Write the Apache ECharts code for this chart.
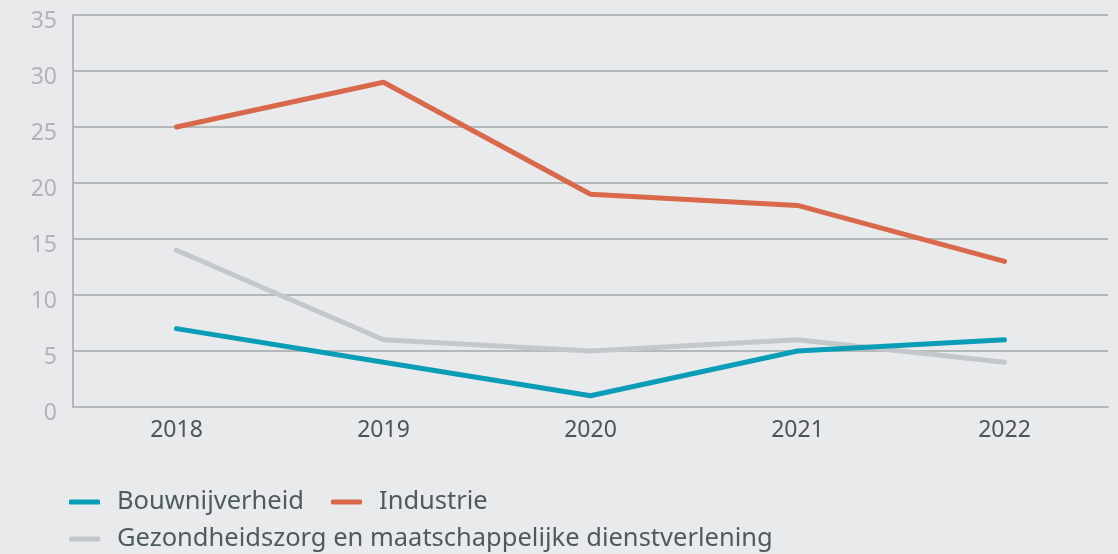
<!DOCTYPE html>
<html>
<head>
<meta charset="utf-8">
<script src="https://cdn.jsdelivr.net/npm/echarts@6/dist/echarts.min.js"></script>
<style>
  html, body { margin: 0; padding: 0; background: #e9eaec; }
  #chart { width: 1118px; height: 554px; }
</style>
</head>
<body>
<div id="chart"></div>
<script>
var years = ['2018', '2019', '2020', '2021', '2022'];
var bouw = [7, 4, 1, 5, 6];
var industrie = [25, 29, 19, 18, 13];
var zorg = [14, 6, 5, 6, 4];

var seriesNames = ['Bouwnijverheid', 'Industrie', 'Gezondheidszorg en maatschappelijke dienstverlening'];
var colors = ['#0a9db7', '#d9694a', '#c3c8cc'];

var myChart = echarts.init(document.getElementById('chart'));

var legendText = { fontFamily: 'Noto Sans', fontSize: 25.5, color: '#4e5a62', padding: [0, 0, 0, 12] };

var option = {
    backgroundColor: '#e9eaec',
    color: colors,
    grid: { left: 73, right: 10, top: 15, bottom: 147 },
    legend: [
        {
            data: [seriesNames[0], seriesNames[1]],
            left: 69, top: 489, padding: 0,
            icon: 'roundRect', itemWidth: 31, itemHeight: 5, itemGap: 27,
            textStyle: legendText
        },
        {
            data: [seriesNames[2]],
            left: 69, top: 526, padding: 0,
            icon: 'roundRect', itemWidth: 31, itemHeight: 5,
            textStyle: legendText
        }
    ],
    xAxis: {
        type: 'category',
        data: years,
        boundaryGap: true,
        axisLine: { lineStyle: { color: '#b3b8bb', width: 2 } },
        axisTick: { show: false },
        axisLabel: { fontFamily: 'Noto Sans', fontSize: 23, color: '#4a555c', margin: 12 }
    },
    yAxis: {
        type: 'value',
        min: 0, max: 35, interval: 5,
        axisLine: { show: true, lineStyle: { color: '#b3b8bb', width: 2 } },
        axisTick: { show: false },
        axisLabel: {
            fontFamily: 'Noto Sans', fontSize: 23, color: '#b0b5b9', margin: 16,
            verticalAlign: 'top', lineHeight: 12
        },
        splitLine: { lineStyle: { color: '#b3b8bb', width: 2 } }
    },
    series: [
        {
            name: seriesNames[0], type: 'line', data: bouw,
            symbol: 'none', lineStyle: { width: 5, cap: 'round', join: 'round' }, z: 3
        },
        {
            name: seriesNames[1], type: 'line', data: industrie,
            symbol: 'none', lineStyle: { width: 5, cap: 'round', join: 'round' }, z: 3
        },
        {
            name: seriesNames[2], type: 'line', data: zorg,
            symbol: 'none', lineStyle: { width: 5, cap: 'round', join: 'round' }, z: 2
        }
    ]
};

myChart.setOption(option);
</script>
</body>
</html>
